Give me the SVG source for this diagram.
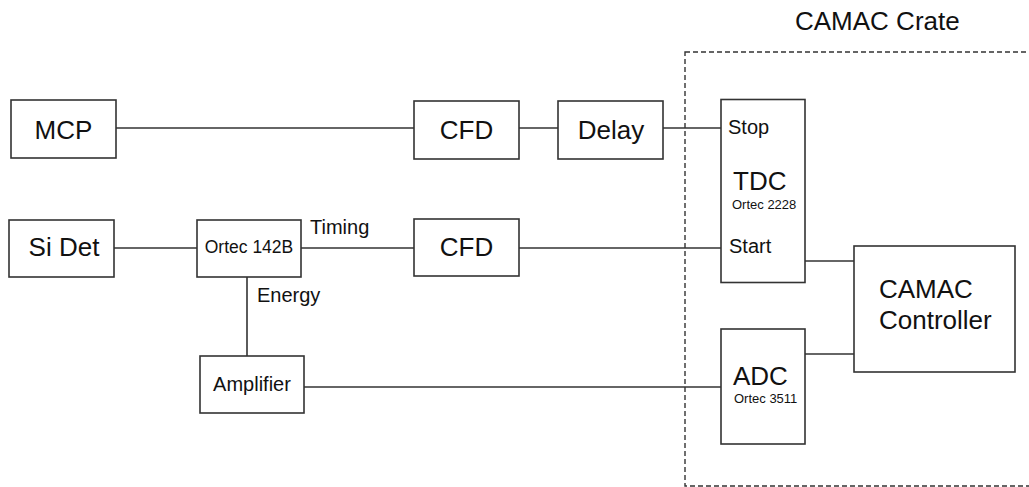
<svg xmlns="http://www.w3.org/2000/svg" width="1029" height="487" viewBox="0 0 1029 487">
<style>
.box{fill:#fff;stroke:#333;stroke-width:1.6}
.ln{stroke:#333;stroke-width:1.6;fill:none}
.dash{stroke:#333;stroke-width:1.4;fill:none;stroke-dasharray:5,3}
text{font-family:"Liberation Sans",Arial,sans-serif;fill:#111}
.big{font-size:26px}
.mid{font-size:20px}
.sm{font-size:13px}
</style>
<rect x="0" y="0" width="1029" height="487" fill="#fff"/>
<g id="crate">
<rect class="dash" x="685" y="52" width="360" height="434"/>
<text class="big" x="795" y="30">CAMAC Crate</text>
</g>
<g id="connectors">
<line class="ln" x1="116" y1="128" x2="414" y2="128"/>
<line class="ln" x1="519" y1="128" x2="558" y2="128"/>
<line class="ln" x1="663" y1="128" x2="721" y2="128"/>
<line class="ln" x1="114" y1="248" x2="197" y2="248"/>
<line class="ln" x1="301" y1="248" x2="414" y2="248"/>
<line class="ln" x1="519" y1="248" x2="721" y2="248"/>
<line class="ln" x1="247" y1="277" x2="247" y2="356"/>
<line class="ln" x1="304" y1="387" x2="721" y2="387"/>
<line class="ln" x1="805" y1="261" x2="854" y2="261"/>
<line class="ln" x1="805" y1="354" x2="854" y2="354"/>
<text class="mid" x="310" y="234">Timing</text>
<text class="mid" x="257" y="302">Energy</text>
</g>
<g id="mcp">
<rect class="box" x="11" y="100" width="105" height="58"/>
<text class="big" x="63.5" y="139" text-anchor="middle">MCP</text>
</g>
<g id="sidet">
<rect class="box" x="9" y="220" width="105" height="57"/>
<text class="big" x="64" y="256" text-anchor="middle">Si Det</text>
</g>
<g id="ortec142b">
<rect class="box" x="197" y="220" width="104" height="57"/>
<text x="249" y="253" font-size="17.5" text-anchor="middle">Ortec 142B</text>
</g>
<g id="cfd1">
<rect class="box" x="414" y="101" width="105" height="58"/>
<text class="big" x="466.5" y="139" text-anchor="middle">CFD</text>
</g>
<g id="delay">
<rect class="box" x="558" y="101" width="105" height="58"/>
<text class="big" x="611" y="139" text-anchor="middle">Delay</text>
</g>
<g id="cfd2">
<rect class="box" x="414" y="219" width="105" height="57"/>
<text class="big" x="466.5" y="256" text-anchor="middle">CFD</text>
</g>
<g id="amplifier">
<rect class="box" x="200" y="356" width="104" height="57"/>
<text class="mid" x="252" y="391" text-anchor="middle" font-size="20.5">Amplifier</text>
</g>
<g id="tdc">
<rect class="box" x="721" y="99.5" width="84" height="183"/>
<text class="mid" x="728" y="134">Stop</text>
<text class="big" x="733" y="190">TDC</text>
<text class="sm" x="732" y="209">Ortec 2228</text>
<text class="mid" x="729" y="253">Start</text>
</g>
<g id="adc">
<rect class="box" x="721" y="329" width="84" height="115"/>
<text class="big" x="733" y="385">ADC</text>
<text class="sm" x="734" y="403">Ortec 3511</text>
</g>
<g id="controller">
<rect class="box" x="854" y="246" width="161" height="126"/>
<text class="big" x="879" y="298">CAMAC</text>
<text class="big" x="879" y="329">Controller</text>
</g>
</svg>
